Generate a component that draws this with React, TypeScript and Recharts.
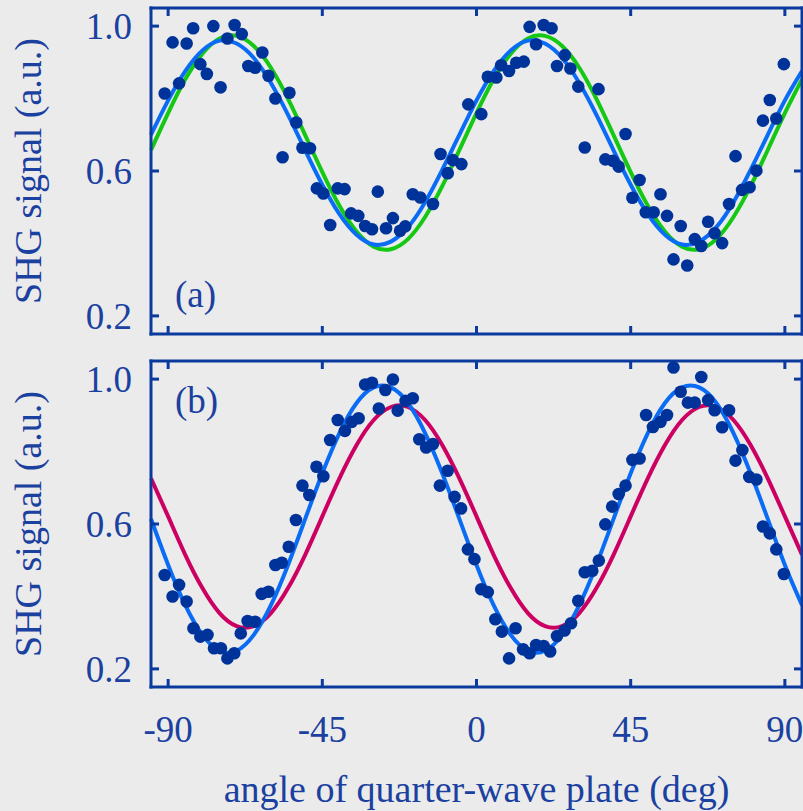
import React from "react";
import { ComposedChart, Line, Scatter, XAxis, YAxis } from "recharts";

// fit curves, read every 5 deg from the figure
const angles = [
  -95, -90, -85, -80, -75, -70, -65, -60, -55, -50, -45, -40, -35, -30, -25,
  -20, -15, -10, -5, 0, 5, 10, 15, 20, 25, 30, 35, 40, 45, 50, 55, 60, 65, 70,
  75, 80, 85, 90, 95,
];
const greenFitA = [
  0.658, 0.76, 0.853, 0.924, 0.966, 0.973, 0.945, 0.885, 0.799, 0.699, 0.597,
  0.504, 0.433, 0.391, 0.384, 0.412, 0.473, 0.558, 0.658, 0.76, 0.853, 0.924,
  0.966, 0.973, 0.945, 0.885, 0.799, 0.699, 0.597, 0.504, 0.433, 0.391, 0.384,
  0.412, 0.473, 0.558, 0.658, 0.76, 0.853,
];
const blueFitA = [
  0.7, 0.795, 0.876, 0.933, 0.96, 0.952, 0.912, 0.843, 0.755, 0.657, 0.562,
  0.481, 0.424, 0.397, 0.405, 0.445, 0.514, 0.603, 0.7, 0.795, 0.876, 0.933,
  0.96, 0.952, 0.912, 0.843, 0.755, 0.657, 0.562, 0.481, 0.424, 0.397, 0.405,
  0.445, 0.514, 0.603, 0.7, 0.795, 0.876,
];
const magentaFitB = [
  0.726, 0.621, 0.515, 0.423, 0.354, 0.318, 0.318, 0.354, 0.423, 0.515, 0.621,
  0.726, 0.818, 0.887, 0.923, 0.923, 0.887, 0.818, 0.726, 0.621, 0.515, 0.423,
  0.354, 0.318, 0.318, 0.354, 0.423, 0.515, 0.621, 0.726, 0.818, 0.887, 0.923,
  0.923, 0.887, 0.818, 0.726, 0.621, 0.515,
];
const blueFitB = [
  0.614, 0.487, 0.376, 0.294, 0.25, 0.25, 0.294, 0.376, 0.487, 0.614, 0.74,
  0.851, 0.934, 0.977, 0.977, 0.934, 0.851, 0.74, 0.614, 0.487, 0.376, 0.294,
  0.25, 0.25, 0.294, 0.376, 0.487, 0.614, 0.74, 0.851, 0.934, 0.977, 0.977,
  0.934, 0.851, 0.74, 0.614, 0.487, 0.376,
];

// measured points
const dotAnglesA = [
  -91.0, -88.7, -86.8, -84.6, -82.7, -80.6, -78.7, -76.8, -74.7, -72.7, -70.6,
  -68.5, -66.6, -64.6, -62.5, -60.7, -58.7, -56.6, -54.6, -52.6, -50.8, -48.6,
  -46.6, -44.7, -42.7, -40.5, -38.5, -36.6, -34.5, -32.5, -30.5, -28.8, -26.4,
  -24.4, -22.3, -20.8, -18.6, -16.4, -12.7, -10.5, -8.4, -6.9, -4.4, -2.4, 1.4,
  3.3, 5.8, 7.2, 9.5, 11.6, 13.8, 15.5, 17.4, 19.6, 21.9, 23.5, 25.8, 27.4,
  29.7, 31.6, 35.6, 37.6, 39.8, 41.5, 43.5, 45.5, 47.6, 49.4, 51.7, 53.7, 55.6,
  57.5, 59.6, 61.5, 63.7, 65.6, 67.6, 69.5, 71.7, 73.7, 75.6, 77.5, 79.7, 81.7,
  83.6, 85.6, 87.5, 89.7,
];
const dotSignalA = [
  0.814, 0.955, 0.842, 0.952, 0.994, 0.895, 0.868, 1.0, 0.831, 0.966, 1.003,
  0.978, 0.89, 0.885, 0.927, 0.863, 0.8, 0.638, 0.816, 0.734, 0.664, 0.663,
  0.552, 0.538, 0.451, 0.552, 0.55, 0.483, 0.476, 0.448, 0.439, 0.543, 0.442,
  0.47, 0.435, 0.447, 0.536, 0.527, 0.509, 0.647, 0.594, 0.63, 0.619, 0.784,
  0.757, 0.86, 0.858, 0.892, 0.876, 0.899, 0.902, 0.998, 0.95, 1.003, 0.994,
  0.89, 0.92, 0.883, 0.833, 0.665, 0.826, 0.632, 0.628, 0.612, 0.702, 0.526,
  0.575, 0.486, 0.486, 0.536, 0.476, 0.356, 0.448, 0.339, 0.412, 0.393, 0.46,
  0.428, 0.401, 0.509, 0.641, 0.548, 0.555, 0.601, 0.739, 0.796, 0.745, 0.895,
];
const dotAnglesB = [
  -91.0, -88.7, -86.8, -84.6, -82.6, -80.6, -78.5, -76.6, -74.6, -72.7, -70.7,
  -68.8, -66.8, -64.6, -62.7, -60.7, -58.7, -56.8, -54.8, -52.7, -50.8, -48.8,
  -46.7, -44.7, -42.7, -40.5, -38.4, -36.4, -34.4, -32.5, -30.5, -28.5, -26.6,
  -24.4, -23.0, -20.7, -18.6, -16.7, -14.7, -12.7, -10.7, -8.4, -6.4, -4.5,
  -2.5, -0.6, 1.4, 3.3, 5.5, 7.4, 9.5, 11.4, 13.6, 15.5, 17.4, 19.6, 21.5, 23.5,
  25.7, 27.6, 29.7, 31.6, 33.8, 35.7, 37.6, 39.6, 41.5, 43.5, 45.5, 47.6, 49.5,
  51.5, 53.7, 55.6, 57.5, 59.6, 61.7, 63.7, 65.6, 67.6, 69.5, 71.7, 73.7, 75.6,
  77.6, 79.6, 81.7, 83.6, 85.6, 87.5, 89.7,
];
const dotSignalB = [
  0.459, 0.4, 0.432, 0.386, 0.312, 0.289, 0.294, 0.257, 0.257, 0.229, 0.243,
  0.298, 0.332, 0.33, 0.407, 0.413, 0.487, 0.493, 0.537, 0.611, 0.706, 0.68,
  0.758, 0.732, 0.832, 0.887, 0.857, 0.882, 0.892, 0.985, 0.99, 0.919, 0.97,
  0.999, 0.913, 0.94, 0.947, 0.834, 0.811, 0.821, 0.706, 0.747, 0.675, 0.643,
  0.53, 0.503, 0.42, 0.412, 0.337, 0.303, 0.229, 0.312, 0.254, 0.243, 0.266,
  0.263, 0.248, 0.291, 0.306, 0.326, 0.388, 0.467, 0.471, 0.499, 0.599, 0.648,
  0.683, 0.706, 0.777, 0.781, 0.901, 0.868, 0.882, 0.901, 1.032, 0.965, 0.935,
  0.935, 1.006, 0.942, 0.914, 0.867, 0.914, 0.775, 0.804, 0.73, 0.723, 0.593,
  0.574, 0.53, 0.462,
];

const xTicks = [-90, -45, 0, 45, 90];
const yTicks = [0.2, 0.6, 1.0];

const pts = (xs: number[], ys: number[]) => xs.map((x, i) => ({ x, y: ys[i] }));

const BG = "#ebebeb";
const FRAME = "#0b3a9e";
const TEXT = "#1a40a0";
const DOT = "#003399";
const SERIF = '"Liberation Serif", Tinos, "Times New Roman", "DejaVu Serif", serif';
const TICK_LEN = 8;

const frameLine = { stroke: FRAME, strokeWidth: 3, strokeLinecap: "square" as const };
const labelFont = { fill: TEXT, fontSize: 37, fontFamily: SERIF };

// tick marks point into the plot; labels sit outside
const LeftTick = (p: any) => (
  <g>
    <line x1={p.x} y1={p.y} x2={p.x + TICK_LEN} y2={p.y} stroke={FRAME} strokeWidth={3} />
    <text x={p.x - 19} y={p.y} dy="0.355em" textAnchor="end" {...labelFont}>
      {Number(p.payload.value).toFixed(1)}
    </text>
  </g>
);
const RightTick = (p: any) => (
  <line x1={p.x} y1={p.y} x2={p.x - TICK_LEN} y2={p.y} stroke={FRAME} strokeWidth={3} />
);
const TopTick = (p: any) => (
  <line x1={p.x} y1={p.y} x2={p.x} y2={p.y + TICK_LEN} stroke={FRAME} strokeWidth={3} />
);
const BottomTick = (showLabel: boolean) => (p: any) => (
  <g>
    <line x1={p.x} y1={p.y} x2={p.x} y2={p.y - TICK_LEN} stroke={FRAME} strokeWidth={3} />
    {showLabel && (
      <text x={p.x} y={p.y + 29} dy="0.71em" textAnchor="middle" {...labelFont}>
        {String(p.payload.value)}
      </text>
    )}
  </g>
);

const dotShape = (p: any) => <circle cx={p.cx} cy={p.cy} r={6.3} fill={DOT} />;

function Panel(props: {
  height: number;
  marginTop: number;
  marginBottom: number;
  fits: { data: { x: number; y: number }[]; color: string }[];
  dots: { x: number; y: number }[];
  showX: boolean;
}) {
  const { height, marginTop, marginBottom, fits, dots, showX } = props;
  const common = { tickSize: 0, tickMargin: 0, tickLine: false, interval: 0 as const };
  return (
    <ComposedChart
      width={803}
      height={height}
      margin={{ top: marginTop, right: 1, bottom: marginBottom, left: 0 }}
    >
      <YAxis
        type="number"
        domain={[0.15, 1.05]}
        ticks={yTicks}
        width={151}
        {...common}
        axisLine={frameLine}
        tick={LeftTick}
        label={{
          value: "SHG signal (a.u.)",
          angle: -90,
          position: "insideLeft",
          offset: 28,
          style: { textAnchor: "middle", fill: TEXT, fontSize: 38, fontFamily: SERIF },
        }}
      />
      <YAxis
        yAxisId="r"
        orientation="right"
        type="number"
        domain={[0.15, 1.05]}
        ticks={yTicks}
        mirror
        {...common}
        axisLine={frameLine}
        tick={RightTick}
      />
      <XAxis
        dataKey="x"
        type="number"
        domain={[-95, 95]}
        ticks={xTicks}
        mirror={!showX}
        height={showX ? 124 : 30}
        {...common}
        axisLine={frameLine}
        tick={BottomTick(showX)}
        label={
          showX
            ? {
                value: "angle of quarter-wave plate (deg)",
                position: "insideBottom",
                offset: 9,
                style: { fill: TEXT, fontSize: 38, fontFamily: SERIF },
              }
            : undefined
        }
      />
      <XAxis
        xAxisId="top"
        dataKey="x"
        orientation="top"
        type="number"
        domain={[-95, 95]}
        ticks={xTicks}
        mirror
        {...common}
        axisLine={frameLine}
        tick={TopTick}
      />
      <Scatter data={dots} dataKey="y" shape={dotShape} isAnimationActive={false} />
      {fits.map((f, i) => (
        <Line
          key={i}
          data={f.data}
          dataKey="y"
          xAxisId={i === 0 ? "top" : 0}
          yAxisId={i === 0 ? "r" : 0}
          type="natural"
          stroke={f.color}
          strokeWidth={4}
          dot={false}
          activeDot={false}
          isAnimationActive={false}
        />
      ))}
    </ComposedChart>
  );
}

const tagStyle: React.CSSProperties = {
  position: "absolute",
  left: 175,
  fontFamily: SERIF,
  fontSize: 37,
  lineHeight: 1,
  color: TEXT,
};

export default function App() {
  return (
    <div
      style={{
        position: "absolute",
        left: 0,
        top: 0,
        width: 803,
        height: 811,
        background: BG,
        overflow: "hidden",
      }}
    >
      <div style={{ position: "absolute", left: 0, top: 0 }}>
        <Panel
          height={340}
          marginTop={8}
          marginBottom={6}
          dots={pts(dotAnglesA, dotSignalA)}
          fits={[
            { data: pts(angles, greenFitA), color: "#14c814" },
            { data: pts(angles, blueFitA), color: "#0a6cf5" },
          ]}
          showX={false}
        />
      </div>
      <div style={{ position: "absolute", left: 0, top: 340 }}>
        <Panel
          height={471}
          marginTop={21}
          marginBottom={0}
          dots={pts(dotAnglesB, dotSignalB)}
          fits={[
            { data: pts(angles, magentaFitB), color: "#cc0062" },
            { data: pts(angles, blueFitB), color: "#0a6cf5" },
          ]}
          showX={true}
        />
      </div>
      <div style={{ ...tagStyle, top: 276 }}>(a)</div>
      <div style={{ ...tagStyle, top: 382 }}>(b)</div>
    </div>
  );
}
